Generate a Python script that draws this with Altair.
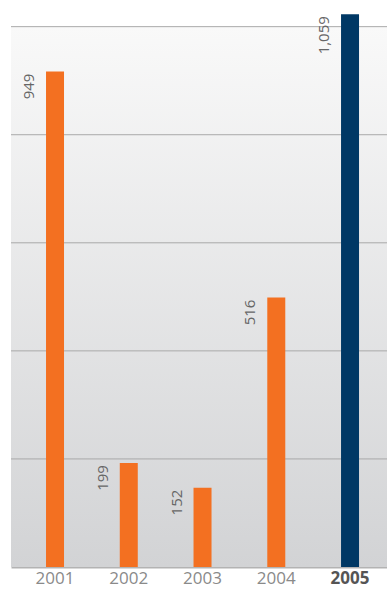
import altair as alt
import pandas as pd

years = ["2001", "2002", "2003", "2004", "2005"]
values = [949, 199, 152, 516, 1059]
bar_colors = ["#F37021", "#F37021", "#F37021", "#F37021", "#003865"]
grid_values = [207, 414, 621, 828, 1035]
y_max = 1065

df = pd.DataFrame({"year": years, "value": values, "color": bar_colors})
grid_df = pd.DataFrame({"g": grid_values})

W, H = 376, 556

yscale = alt.Scale(domain=[0, y_max], nice=False, zero=True)
xscale = alt.Scale(domain=years, paddingInner=0.756, paddingOuter=0.427, align=0.556)

bg = alt.Chart(pd.DataFrame({"a": [0]})).mark_rect(
    color=alt.LinearGradient(
        gradient="linear",
        stops=[alt.GradientStop(color="#f9f9f9", offset=0),
               alt.GradientStop(color="#d2d3d5", offset=1)],
        x1=0, x2=0, y1=0, y2=1,
    )
).encode(
    x=alt.value(0), x2=alt.value(W),
    y=alt.Y(datum=grid_values[-1], type="quantitative", scale=yscale, axis=None),
    y2=alt.Y2(datum=0),
)

grid = alt.Chart(grid_df).mark_rule(color="#a9a9a9", strokeWidth=1).encode(
    y=alt.Y("g:Q", scale=yscale, axis=None),
    x=alt.value(0), x2=alt.value(W),
)

bars = alt.Chart(df).mark_bar().encode(
    x=alt.X("year:N", scale=xscale, sort=years,
            axis=alt.Axis(title=None, labelAngle=0, ticks=False, domain=True,
                          domainColor="#b3b3b3", domainWidth=2,
                          labelFont="Open Sans", labelFontSize=17, labelPadding=3,
                          labelBaseline="top",
                          labelColor=alt.expr("datum.value == '2005' ? '#555555' : '#8a8a8a'"),
                          labelFontWeight=alt.expr("datum.value == '2005' ? 'bold' : 'normal'"))),
    y=alt.Y("value:Q", scale=yscale,
            axis=alt.Axis(title=None, labels=False, ticks=False, grid=False,
                          domain=True, domainColor="#ababab", domainWidth=1.5)),
    color=alt.Color("color:N", scale=None),
)

labels = alt.Chart(df).mark_text(
    angle=270, align="right", baseline="bottom", dx=-2, dy=-18,
    font="Open Sans", fontSize=15, color="#666666",
).encode(
    x=alt.X("year:N", scale=xscale, sort=years),
    y=alt.Y("value:Q", scale=yscale),
    text=alt.Text("value:Q", format=","),
)

chart = alt.layer(bg, grid, bars, labels).properties(
    width=W, height=H,
    autosize=alt.AutoSizeParams(type="none"),
    padding={"left": 11, "top": 11, "right": 0, "bottom": 22},
    background="white",
).configure_view(stroke=None)

chart.save("out.html", embed_options={"renderer": "svg", "actions": False})
